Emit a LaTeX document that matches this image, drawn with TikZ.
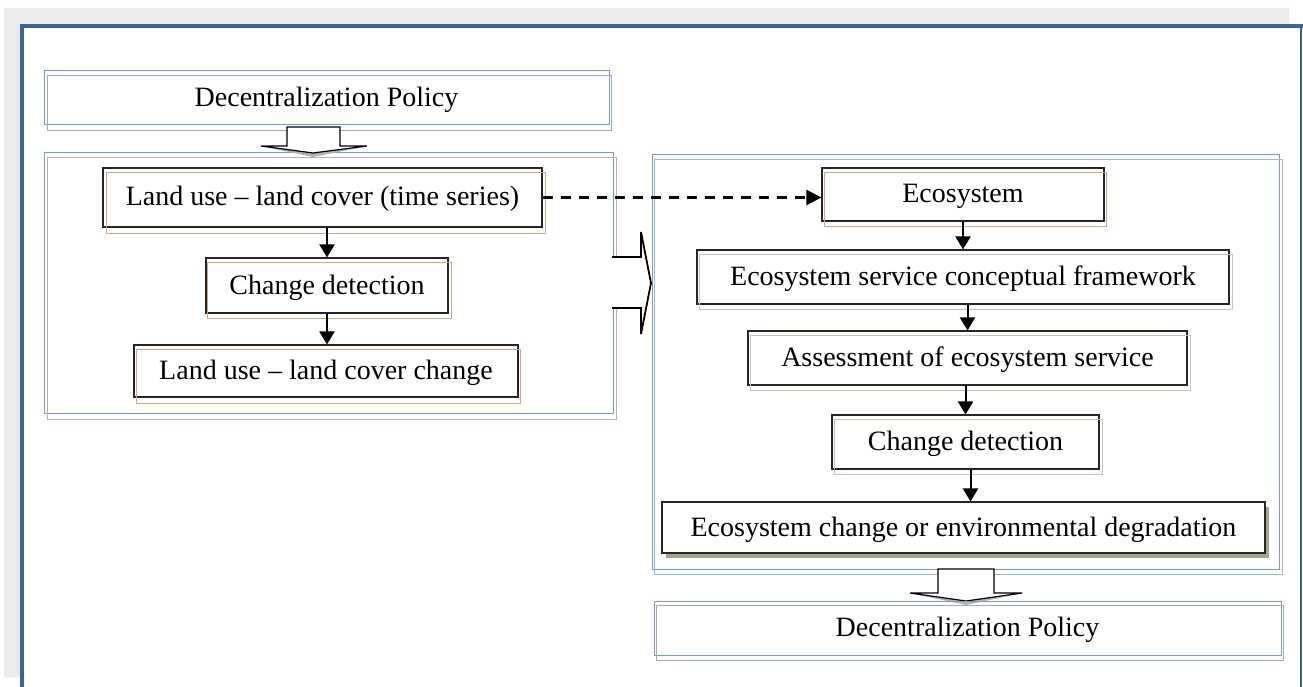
\documentclass[tikz,border=0pt]{standalone}
\usepackage{fontspec}
\setmainfont{Liberation Serif}
\usetikzlibrary{arrows.meta,shadows}

\definecolor{framebg}{HTML}{EBEBEB}
\definecolor{frameblue}{HTML}{3A6597}
\definecolor{boxblue}{HTML}{6D9EDB}
\definecolor{greypurple}{HTML}{A8A4BC}
\definecolor{pinkbrown}{HTML}{C8A9A6}
\definecolor{tealgrey}{HTML}{9DB8C0}
\definecolor{orangeline}{HTML}{D9A57E}
\definecolor{oliveline}{HTML}{C6C6B0}
\definecolor{olivefill}{HTML}{A1A98B}
\definecolor{boxdark}{HTML}{262626}

\tikzset{
  label text/.style={font=\fontsize{28}{32}\selectfont, text height=23pt, text depth=6pt, inner sep=0pt},
  stepbox/.style={label text, draw=boxdark, line width=1.1pt},
  policybox/.style={label text, draw=boxblue, line width=1pt},
  echo line/.style={line width=1pt},
  flow/.style={line width=2pt, -{Triangle[length=13pt,width=15pt]}},
  link/.style={line width=2.2pt, dash pattern=on 10pt off 8pt, -{Triangle[length=15pt,width=15pt]}},
  blockarrow/.style={draw=black, fill=white, line width=1.2pt, line join=miter},
  headshade/.style={fill=black!30},
}

\begin{document}
\begin{tikzpicture}[x=1pt,y=-1pt]
\useasboundingbox (0,0) rectangle (1303,687);
\fill[white] (0,0) rectangle (1303,687);

% page frame
\fill[framebg] (4,8) -- (1289,8) -- (1289,24) -- (20,24) -- (20,677) -- (4,677) -- cycle;
\fill[frameblue] (20,24) rectangle (1303,28);
\fill[frameblue] (20,24) rectangle (24,687);
\draw[frameblue, line width=1.5pt] (1301,26) -- (1301,687);

% ---------- left column ----------
\node[policybox, minimum width=565pt, minimum height=54pt] (tp) at (326.5,98) {Decentralization Policy};
\draw[greypurple, echo line] ([shift={(4,5)}]tp.north west) rectangle ([shift={(2,5)}]tp.south east);

% left container
\node[draw=boxblue, line width=1pt, minimum width=569pt, minimum height=260pt, inner sep=0pt] (lc) at (328.5,283) {};
\draw[pinkbrown, echo line] ([shift={(4,5)}]lc.north west) rectangle ([shift={(3,6)}]lc.south east);

% block arrow from the policy into the left container
\fill[headshade] (265,147) -- (313,153) -- (363,147) -- (313,157) -- cycle;
\draw[blockarrow] (287,127) -- (287,146) -- (261,146) -- (313,153) -- (367,146) -- (340,146) -- (340,127) -- cycle;

\node[stepbox, minimum width=439pt, minimum height=59pt] (lu) at (322.5,197.5) {Land use – land cover (time series)};
\draw[orangeline, echo line] ([shift={(4,5)}]lu.north west) rectangle ([shift={(3,6)}]lu.south east);

\node[stepbox, minimum width=242pt, minimum height=55pt] (cdl) at (327,285.5) {Change detection};
\draw[orangeline, echo line] ([shift={(2,5)}]cdl.north west) rectangle ([shift={(3,5)}]cdl.south east);

\node[stepbox, minimum width=384pt, minimum height=52pt] (lcc) at (326,371) {Land use – land cover change};
\draw[orangeline, echo line] ([shift={(3,5)}]lcc.north west) rectangle ([shift={(2,6)}]lcc.south east);

\draw[flow] (lu.south -| cdl.north) -- (cdl.north);
\draw[flow] (cdl.south) -- (cdl.south |- lcc.north);

% ---------- right column ----------
\node[draw=boxblue, line width=1pt, minimum width=627pt, minimum height=414pt, inner sep=0pt] (rc) at (965.5,362) {};
\draw[tealgrey, echo line] ([shift={(3,5)}]rc.north west) rectangle ([shift={(3,5)}]rc.south east);

% block arrow between the two containers
\draw[blockarrow, line width=1.8pt] (612,257) -- (641,257) -- (641,232) -- (651,283) -- (641,334) -- (641,308) -- (612,308);

\node[stepbox, minimum width=282pt, minimum height=53pt] (eco) at (963,194.5) {Ecosystem};
\draw[orangeline, echo line] ([shift={(3,5)}]eco.north west) rectangle ([shift={(2,5)}]eco.south east);

\node[stepbox, minimum width=532pt, minimum height=54pt] (esc) at (963,277) {Ecosystem service conceptual framework};
\draw[oliveline, echo line] ([shift={(3,5)}]esc.north west) rectangle ([shift={(3,5)}]esc.south east);

\node[stepbox, minimum width=439pt, minimum height=54pt] (ass) at (967.5,358) {Assessment of ecosystem service};
\draw[oliveline, echo line] ([shift={(3,5)}]ass.north west) rectangle ([shift={(3,5)}]ass.south east);

\node[stepbox, minimum width=267pt, minimum height=54pt] (cdr) at (965.5,442) {Change detection};
\draw[oliveline, echo line] ([shift={(3,5)}]cdr.north west) rectangle ([shift={(3,5)}]cdr.south east);

\node[stepbox, fill=white, minimum width=603pt, minimum height=51pt,
      drop shadow={shadow xshift=4pt, shadow yshift=-5pt, fill=olivefill, opacity=1}] (ecc) at (963.5,527.5) {Ecosystem change or environmental degradation};

\draw[link] (lu.east) -- (lu.east -| eco.west);
\draw[flow] (eco.south) -- (esc.north);
\draw[flow] (esc.south -| ass.north) -- (ass.north);
\draw[flow] (ass.south -| cdr.north) -- (cdr.north);
\draw[flow] ([xshift=5pt]cdr.south) -- ([xshift=5pt]cdr.south |- ecc.north);

% block arrow from the right container into the policy
\fill[headshade] (914,594) -- (966,601) -- (1018,594) -- (966,605) -- cycle;
\draw[blockarrow] (938,569) -- (938,593) -- (910,593) -- (966,601) -- (1022,593) -- (994,593) -- (994,569) -- cycle;

\node[policybox, minimum width=627pt, minimum height=54pt] (bp) at (967.5,628) {Decentralization Policy};
\draw[greypurple, echo line] ([shift={(3,5)}]bp.north west) rectangle ([shift={(2,5)}]bp.south east);
\end{tikzpicture}
\end{document}
